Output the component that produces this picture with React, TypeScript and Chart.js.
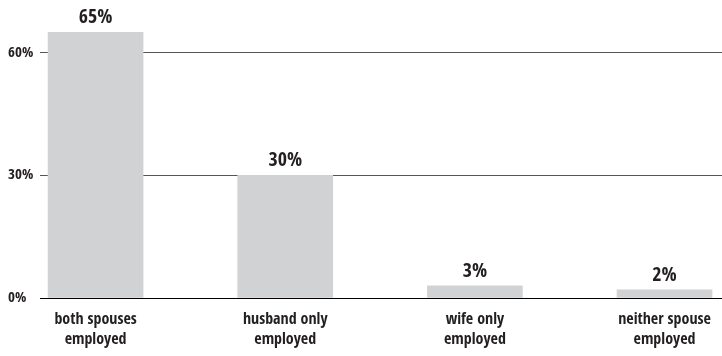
import React, { useEffect, useRef } from "react";
import { Chart, registerables } from "chart.js";

Chart.register(...registerables);

const categories: string[][] = [
  ["both spouses", "employed"],
  ["husband only", "employed"],
  ["wife only", "employed"],
  ["neither spouse", "employed"],
];
const values: number[] = [65, 30, 3, 2];
const yTicks: number[] = [0, 30, 60];

const FONT = "'Open Sans Condensed', 'Open Sans', sans-serif";
const TEXT = "#231f20";
const BAR = "#d1d2d4";

const valueLabels = {
  id: "valueLabels",
  afterDatasetsDraw(chart: any) {
    const ctx = chart.ctx;
    const meta = chart.getDatasetMeta(0);
    ctx.save();
    ctx.font = `800 20px ${FONT}`;
    ctx.fillStyle = TEXT;
    ctx.textAlign = "center";
    ctx.textBaseline = "alphabetic";
    meta.data.forEach((el: any, i: number) => {
      ctx.fillText(`${values[i]}%`, el.x, el.y - 9);
    });
    ctx.restore();
  },
};

export default function App() {
  const ref = useRef<HTMLCanvasElement | null>(null);
  useEffect(() => {
    if (!ref.current) return;
    const chart = new Chart(ref.current, {
      type: "bar",
      data: {
        datasets: [
          {
            data: values.map((v, i) => ({ x: i, y: v })),
            backgroundColor: BAR,
            barThickness: 95,
          },
        ],
      },
      plugins: [valueLabels],
      options: {
        animation: false,
        responsive: false,
        maintainAspectRatio: false,
        layout: { padding: { top: 12, left: 8, right: 0, bottom: 0 } },
        plugins: { legend: { display: false }, tooltip: { enabled: false } },
        scales: {
          x: {
            type: "linear",
            offset: false,
            min: -0.293,
            max: 3.303,
            grid: { display: false, offset: false },
            border: { display: false },
            afterBuildTicks: (scale: any) => {
              scale.ticks = categories.map((_, i) => ({ value: i }));
            },
            afterFit: (scale: any) => {
              scale.height = 58;
              scale.paddingLeft = 0;
              scale.paddingRight = 0;
            },
            ticks: {
              autoSkip: false,
              maxRotation: 0,
              padding: 3,
              color: TEXT,
              font: { family: FONT, size: 16, weight: "800", lineHeight: 1.3 },
              callback: (v: any) => categories[v] ?? "",
            },
          },
          y: {
            min: 0,
            max: 70,
            afterBuildTicks: (scale: any) => {
              scale.ticks = yTicks.map((t) => ({ value: t }));
            },
            afterFit: (scale: any) => {
              scale.width = 32;
              scale.paddingTop = 0;
              scale.paddingBottom = 0;
            },
            border: { display: false },
            grid: {
              drawTicks: false,
              color: (c: any) => (c.tick && c.tick.value === 0 ? "#000000" : "#555555"),
              lineWidth: 1,
            },
            ticks: {
              crossAlign: "far",
              padding: 10,
              color: TEXT,
              font: { family: FONT, size: 15, weight: "800" },
              callback: (v: any) => `${v}%`,
            },
          },
        },
      },
    } as any);
    return () => chart.destroy();
  }, []);
  return (
    <div style={{ position: "fixed", left: 0, top: 0, width: 722, height: 356, background: "#fff" }}>
      <canvas ref={ref} width={722} height={356} style={{ width: 722, height: 356 }} />
    </div>
  );
}
